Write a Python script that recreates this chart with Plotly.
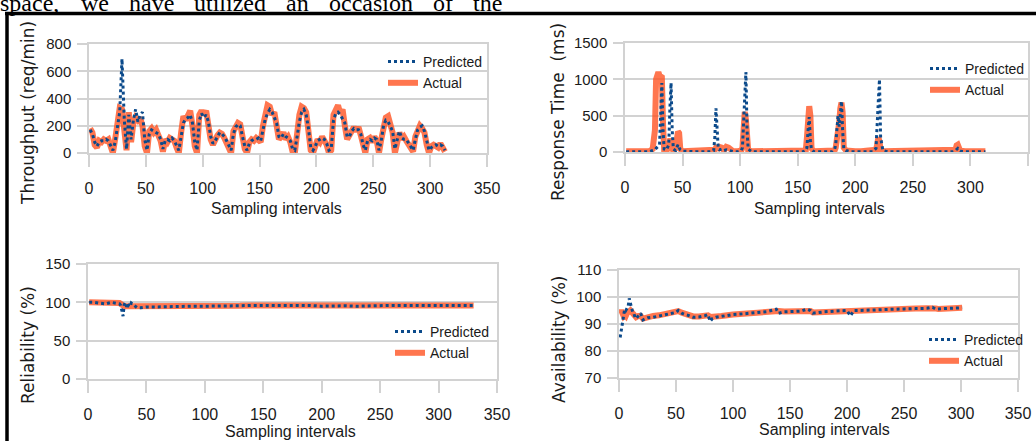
import plotly.graph_objects as go

W, H = 1036, 441

# ---------------- data ----------------
tp_x = list(range(1, 314, 2))
tp_actual = [180,150,60,40,90,80,100,90,100,40,
             0,100,250,330,320,150,20,300,80,220,
             260,240,260,200,50,0,160,180,150,170,
             130,90,10,100,80,110,100,90,40,0,
             150,270,240,290,310,200,50,0,280,310,
             280,310,200,100,60,100,130,150,140,110,
             80,40,0,160,200,220,210,100,30,0,
             80,100,90,110,100,80,200,290,350,340,
             280,300,200,100,120,150,100,120,80,10,
             0,150,280,340,330,300,150,20,0,60,
             100,80,120,90,60,0,20,280,330,350,
             290,320,200,100,130,170,190,160,190,130,
             40,0,100,110,80,120,90,0,100,220,
             260,270,190,150,0,100,150,100,120,90,
             60,40,10,120,180,200,180,150,60,0,
             50,60,50,40,70,40,10]
tp_pred = [170,140,80,50,80,90,90,100,90,60,
           20,80,200,300,690,250,30,280,100,240,
           320,230,280,300,100,20,140,170,160,150,
           140,100,30,90,100,90,110,90,60,20,
           120,220,250,260,280,220,80,20,240,290,
           260,280,230,120,70,90,120,150,140,120,
           90,60,20,140,190,210,200,120,50,20,
           70,90,100,100,110,90,170,250,290,320,
           300,260,220,120,110,140,120,110,90,30,
           20,120,230,300,320,280,180,40,20,50,
           90,100,110,100,70,20,30,240,290,300,
           280,250,220,120,120,160,180,170,170,140,
           60,20,90,100,90,110,100,20,90,200,
           240,230,200,160,30,90,160,110,100,100,
           70,50,20,100,170,190,200,160,80,20,
           40,50,60,50,60,50,20]

rt_x = [1,5,9,13,17,21,
        24,26,27,28,29,30,31,32,33,34,
        36,38,39,40,41,42,
        44,45,46,47,48,50,
        54,58,62,66,70,74,
        77,78,79,80,81,82,
        84,86,88,90,92,94,
        98,101,102,103,104,105,106,107,
        110,115,120,125,130,135,140,145,150,155,
        157,158,159,160,161,162,
        164,168,172,176,180,
        182,183,184,185,186,187,188,189,190,
        192,196,200,205,210,215,
        218,219,220,221,222,
        224,228,235,240,245,250,255,260,265,270,275,280,285,
        287,288,289,290,291,
        295,300,305,310,313]
rt_actual = [10,10,10,10,10,10,
             40,300,1000,1100,1100,1050,1050,1030,400,30,
             20,60,150,150,40,20,
             60,280,280,260,40,10,
             10,10,10,10,10,10,
             15,30,60,40,50,70,
             60,20,70,60,20,10,
             10,20,60,300,550,450,60,20,
             10,10,10,10,10,10,10,10,10,10,
             20,200,600,630,500,50,
             10,10,10,10,10,
             20,60,150,300,400,600,680,550,60,
             20,10,10,10,10,10,
             30,100,200,150,30,
             10,10,10,10,10,10,10,10,10,10,10,10,10,
             30,90,100,60,20,
             10,10,10,10,10]
rt_pred = [5,5,5,5,5,5,
           20,30,50,60,80,100,600,950,300,40,
           30,100,600,950,300,40,
           20,50,100,60,30,10,
           5,5,5,5,5,5,
           20,200,600,250,40,30,
           40,20,30,20,10,5,
           5,20,60,400,800,1100,300,40,
           5,5,5,5,5,5,5,5,5,5,
           20,60,300,480,150,30,
           5,5,5,5,5,
           30,100,300,500,350,550,700,300,50,
           20,5,5,5,5,5,
           50,300,700,1000,200,
           20,5,5,5,5,5,5,5,5,5,5,5,5,
           20,40,50,30,10,
           5,5,5,5,5]

rel_x = [1,5,10,15,20,25,
         27,28,29,30,31,32,33,34,35,36,37,38,39,40,
         42,45,50,
         60,70,80,90,100,110,120,130,140,150,160,170,180,190,200,
         210,220,230,240,250,260,270,280,290,300,310,320,330]
rel_actual = [100,100,100,99,100,99,
              99,98,96,95,95,95,95,95,95,95,95,95,95,95,
              94,94,94,
              94,95,95,95,95,95,95,95.5,96,96,96,96,96,96,95.5,
              95.5,95.5,95.5,95.5,96,96,96,96,96,96,96,96,96]
rel_pred = [100,100,99,98,100,99,
            98,96,90,82,97,100,94,98,95,94,99,98,96,95,
            93,93,94,
            94,94.5,95,95,95,95,95.5,95.5,96,96,96,96,96,96,95,
            95.5,95.5,95,95.5,96,96,96,96,96,96,96,96,96]

av_x = [1,2,3,4,5,6,7,8,9,10,11,12,13,14,15,
        17,19,21,23,25,
        30,35,40,45,50,
        52,55,58,60,65,70,75,78,80,82,85,90,
        100,110,120,130,138,140,145,150,
        160,165,168,170,175,180,190,
        200,203,206,210,220,230,240,250,260,270,
        275,278,280,290,301]
av_actual = [94,95,94,93,93.5,93,94,94.5,95,95,94.5,94,93,92.5,92.5,
             93,93,92,92.3,92.5,
             93,93.2,93.8,94.2,94.5,
             94.8,94.2,93.8,93.5,92.8,92.8,93,93.2,92.6,92.6,92.8,93,
             93.5,93.8,94.3,94.6,95,94.8,94.6,94.6,
             94.8,95,94.8,94.3,94.4,94.5,94.8,
             95,94.8,95,95,95.2,95.3,95.4,95.6,95.7,95.8,
             96,95.7,95.6,95.8,96]
av_pred = [85,88,91,94,95.5,95,96,96.5,99.5,97,96,94.5,94,92.5,92,
           93,94,91.5,92,92.3,
           92.5,93,93.5,94,94.3,
           95,94,93.5,93.3,92.5,92.6,93,93.5,91,92,92.5,92.8,
           93.5,93.8,94.3,94.6,95.5,94,94.5,94.6,
           94.8,95.5,95,94,94.3,94.5,94.8,
           95,93,95,95,95.2,95.3,95.4,95.6,95.7,95.8,
           96.2,95.5,95.6,95.8,96]

x_ticks = [0, 50, 100, 150, 200, 250, 300, 350]
tp_ticks = [0, 200, 400, 600, 800]
rt_ticks = [0, 500, 1000, 1500]
rel_ticks = [0, 50, 100, 150]
av_ticks = [70, 80, 90, 100, 110]

series_names = ["Predicted", "Actual"]
y_titles = ["Throughput (req/min)", "Response Time  (ms)", "Reliability (%)", "Availability (%)"]
x_title = "Sampling intervals"
top_words = ["space,", "we", "have", "utilized", "an", "occasion", "of", "the"]

# ---------------- style ----------------
NARROW = "Liberation Sans Narrow, Liberation Sans, Arial, sans-serif"
WIDE = "DejaVu Sans, Verdana, sans-serif"
PRED_C = "#0b4a8b"
ACT_C = "rgba(255,80,30,0.78)"
GRID = "#d2d2d2"
TXT = "#1a1a1a"


def px_x(p):
    return p / W


def px_y(p):
    return 1 - p / H


fig = go.Figure()

panels = [
    dict(ax="", x=tp_x, a=tp_actual, p=tp_pred, legend="legend"),
    dict(ax="2", x=rt_x, a=rt_actual, p=rt_pred, legend="legend2"),
    dict(ax="3", x=rel_x, a=rel_actual, p=rel_pred, legend="legend3"),
    dict(ax="4", x=av_x, a=av_actual, p=av_pred, legend="legend4"),
]
for pn in panels:
    fig.add_trace(go.Scatter(x=pn["x"], y=pn["a"], mode="lines", name=series_names[1],
                             line=dict(color=ACT_C, width=6), xaxis="x" + pn["ax"],
                             yaxis="y" + pn["ax"], legend=pn["legend"]))
    fig.add_trace(go.Scatter(x=pn["x"], y=pn["p"], mode="lines", name=series_names[0],
                             line=dict(color=PRED_C, width=3, dash="dot"),
                             xaxis="x" + pn["ax"], yaxis="y" + pn["ax"], legend=pn["legend"]))


def xaxis(dom, anchor):
    return dict(domain=dom, anchor=anchor, range=[0, 350], tickvals=x_ticks,
                automargin=False,
                showgrid=False, zeroline=False, showline=True, mirror=True,
                linecolor=GRID, linewidth=1.5, ticks="outside", ticklen=12,
                tickcolor=GRID, tickwidth=1.5, ticklabelstandoff=8,
                tickfont=dict(family=NARROW, size=16, color=TXT))


def yaxis(dom, anchor, rng, tv):
    return dict(domain=dom, anchor=anchor, range=rng, tickvals=tv,
                automargin=False,
                showgrid=True, gridcolor=GRID, gridwidth=1.5, zeroline=False,
                showline=True, mirror=True, linecolor=GRID, linewidth=1.5,
                ticks="outside", ticklen=10, tickcolor=GRID, tickwidth=1.5,
                ticklabelstandoff=3,
                tickfont=dict(family=NARROW, size=15, color=TXT))


layout = dict(
    width=W, height=H, margin=dict(l=0, r=0, t=0, b=0, autoexpand=False),
    paper_bgcolor="white", plot_bgcolor="white",
    xaxis=xaxis([px_x(89), px_x(487)], "y"),
    yaxis=yaxis([px_y(153), px_y(44)], "x", [0, 800], tp_ticks),
    xaxis2=xaxis([px_x(625), px_x(1028)], "y2"),
    yaxis2=yaxis([px_y(152), px_y(43)], "x2", [0, 1500], rt_ticks),
    xaxis3=xaxis([px_x(88), px_x(497)], "y3"),
    yaxis3=yaxis([px_y(379), px_y(264)], "x3", [0, 150], rel_ticks),
    xaxis4=xaxis([px_x(619), px_x(1018)], "y4"),
    yaxis4=yaxis([px_y(378), px_y(270)], "x4", [70, 110], av_ticks),
)

leg_common = dict(xanchor="left", yanchor="top", bgcolor="rgba(0,0,0,0)",
                  font=dict(family=NARROW, size=14, color=TXT),
                  itemwidth=30, traceorder="reversed", tracegroupgap=0)
layout["legend"] = dict(x=px_x(383), y=px_y(46), **leg_common)
layout["legend2"] = dict(x=px_x(925), y=px_y(53), **leg_common)
layout["legend3"] = dict(x=px_x(390), y=px_y(316), **leg_common)
layout["legend4"] = dict(x=px_x(924), y=px_y(324), **leg_common)
fig.update_layout(**layout)

# axis titles
ytitle_pos = [(28, 113), (558, 112), (28, 345), (559, 340)]
for t, (cx, cy) in zip(y_titles, ytitle_pos):
    fig.add_annotation(text=t, x=px_x(cx), y=px_y(cy), xref="paper", yref="paper",
                       showarrow=False, textangle=-90, xanchor="center", yanchor="middle",
                       font=dict(family=WIDE, size=17, color=TXT))
xtitle_pos = [(276, 208), (819, 208), (290, 431), (824, 429)]
for (cx, cy) in xtitle_pos:
    fig.add_annotation(text=x_title, x=px_x(cx), y=px_y(cy), xref="paper", yref="paper",
                       showarrow=False, xanchor="center", yanchor="middle",
                       font=dict(family=NARROW, size=16, color=TXT))

# cropped body text at the top
word_left = [-2, 79, 127, 192, 284, 327, 431, 471]
for wtxt, lx in zip(top_words, word_left):
    fig.add_annotation(text=wtxt, x=px_x(lx), y=px_y(3), xref="paper", yref="paper",
                       showarrow=False, xanchor="left", yanchor="middle",
                       font=dict(family="Liberation Serif, Times New Roman, serif", size=24,
                                 color="black"))

# black frame
fig.add_shape(type="line", xref="paper", yref="paper", x0=px_x(5), x1=1.0,
              y0=px_y(13.5), y1=px_y(13.5), line=dict(color="black", width=3.5))
fig.add_shape(type="line", xref="paper", yref="paper", x0=px_x(7), x1=px_x(7),
              y0=0, y1=px_y(12), line=dict(color="black", width=3.5))

fig.write_html("out.html", config={"displayModeBar": False},
               post_script="document.body.style.margin='0';document.body.style.overflow='hidden';")
